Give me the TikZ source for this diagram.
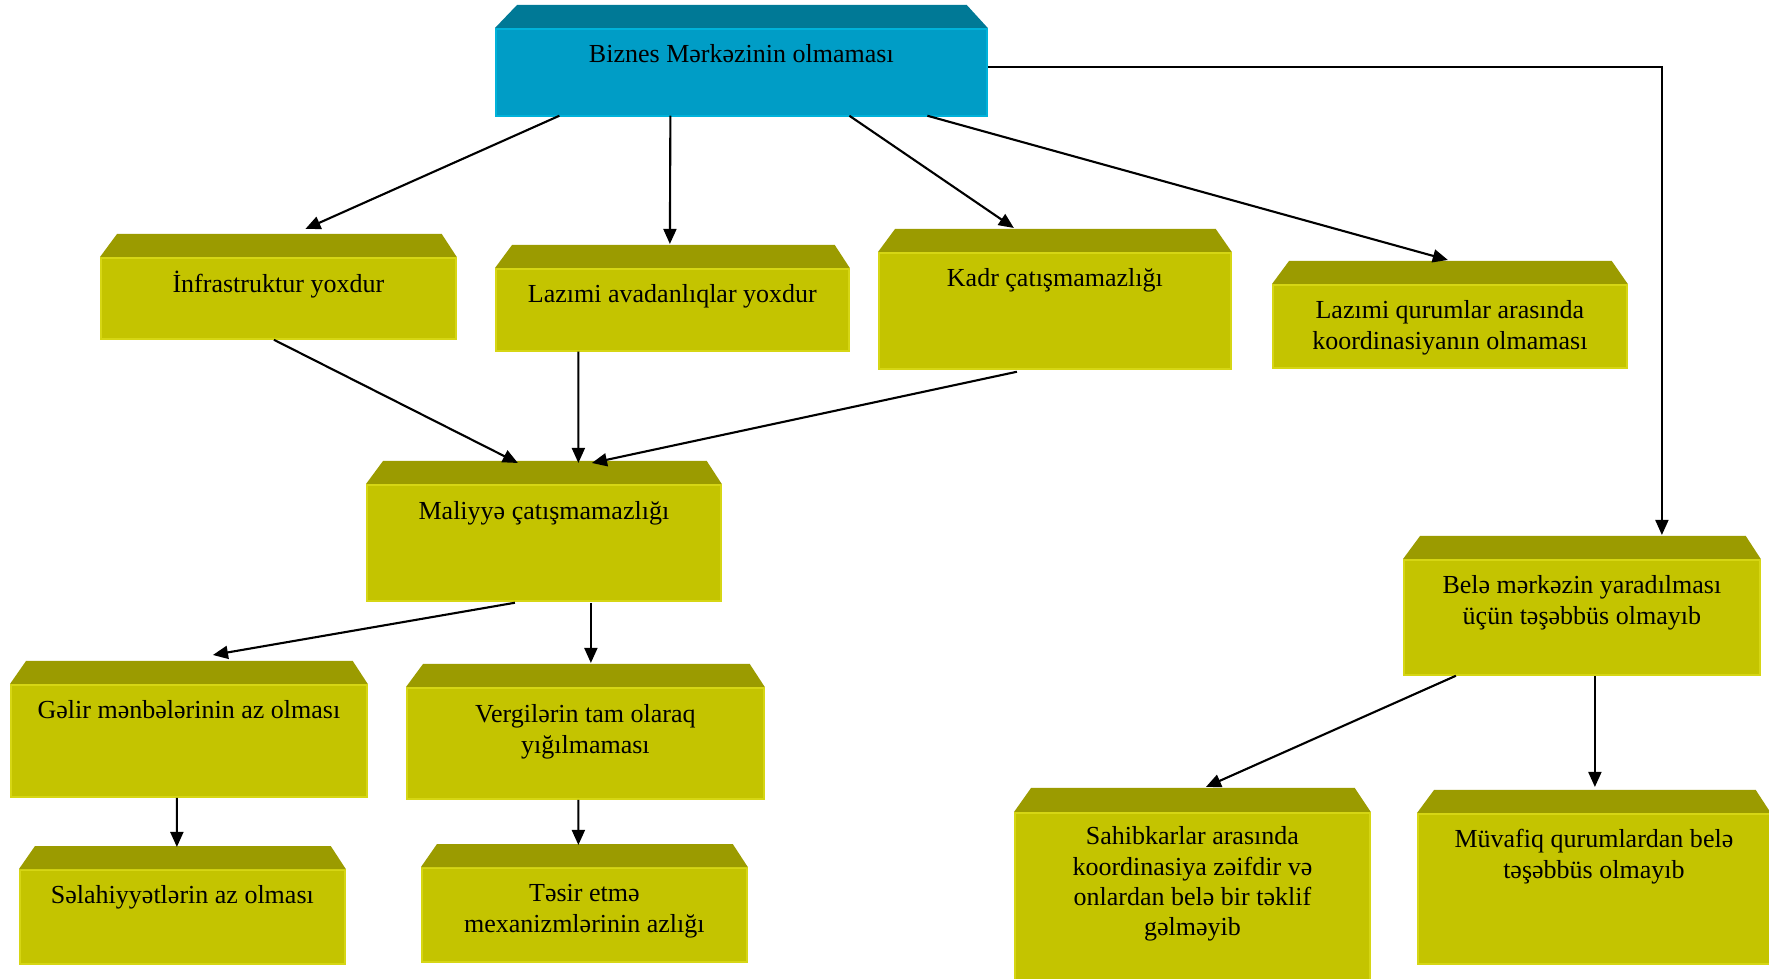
\documentclass[tikz,border=0pt]{standalone}
\usepackage{fontspec}
\setmainfont{Liberation Serif}
\usetikzlibrary{positioning,arrows.meta}
\definecolor{oliveTop}{RGB}{155,155,0}
\definecolor{oliveFront}{RGB}{196,196,0}
\definecolor{oliveEdge}{RGB}{214,214,20}
\definecolor{tealTop}{RGB}{0,121,150}
\definecolor{tealFront}{RGB}{0,157,198}
\definecolor{tealEdge}{RGB}{0,178,218}
\tikzset{
  front/.style={rectangle, anchor=north west, inner sep=0pt, fill=oliveFront, draw=oliveEdge, line width=0.5pt},
  bluefront/.style={front, fill=tealFront, draw=tealEdge},
  boxtext/.style={align=center, inner sep=0pt, font=\fontsize{7.4}{8.6}\selectfont},
  arr/.style={-{Triangle[length=4.3pt,width=3.7pt]}, line width=0.6pt}
}
\begin{document}
\begin{tikzpicture}[x=0.1mm,y=-0.1mm]
\useasboundingbox (0,0) rectangle (1769,979);

\node[bluefront, minimum width=49.1mm, minimum height=8.7mm] (biznes) at (495,28) {};
\node[front, minimum width=35.5mm, minimum height=8.1mm] (infra) at (100,257) {};
\node[front, minimum width=35.3mm, minimum height=8.2mm] (avad) at (495,268) {};
\node[front, minimum width=35.2mm, minimum height=11.6mm] (kadr) at (878,252) {};
\node[front, minimum width=35.4mm, minimum height=8.3mm] (qurum) at (1272,284) {};
\node[front, minimum width=35.4mm, minimum height=11.6mm] (maliyye) at (366,484) {};
\node[front, minimum width=35.6mm, minimum height=11.2mm] (gelir) at (10,684) {};
\node[front, minimum width=35.7mm, minimum height=11.1mm] (vergi) at (406,687) {};
\node[front, minimum width=32.5mm, minimum height=9.4mm] (selah) at (19,869) {};
\node[front, minimum width=32.5mm, minimum height=9.4mm] (tesir) at (421,867) {};
\node[front, minimum width=35.6mm, minimum height=11.5mm] (bele) at (1403,559) {};
\node[front, minimum width=35.5mm, minimum height=17.0mm] (sahib) at (1014,812) {};
\node[front, minimum width=35.2mm, minimum height=15.0mm] (muvafiq) at (1417,813) {};

% top faces
\fill[tealTop] (biznes.north west) -- ++(22,-23) -- ([shift={(-21,-23)}]biznes.north east) -- (biznes.north east) -- cycle;
\fill[oliveTop] (infra.north west) -- ++(17,-23) -- ([shift={(-15,-23)}]infra.north east) -- (infra.north east) -- cycle;
\fill[oliveTop] (avad.north west) -- ++(17,-23) -- ([shift={(-15,-23)}]avad.north east) -- (avad.north east) -- cycle;
\fill[oliveTop] (kadr.north west) -- ++(17,-23) -- ([shift={(-16,-23)}]kadr.north east) -- (kadr.north east) -- cycle;
\fill[oliveTop] (qurum.north west) -- ++(17,-23) -- ([shift={(-16,-23)}]qurum.north east) -- (qurum.north east) -- cycle;
\fill[oliveTop] (maliyye.north west) -- ++(17,-23) -- ([shift={(-15,-23)}]maliyye.north east) -- (maliyye.north east) -- cycle;
\fill[oliveTop] (gelir.north west) -- ++(16,-23) -- ([shift={(-15,-23)}]gelir.north east) -- (gelir.north east) -- cycle;
\fill[oliveTop] (vergi.north west) -- ++(17,-23) -- ([shift={(-15,-23)}]vergi.north east) -- (vergi.north east) -- cycle;
\fill[oliveTop] (selah.north west) -- ++(16,-23) -- ([shift={(-15,-23)}]selah.north east) -- (selah.north east) -- cycle;
\fill[oliveTop] (tesir.north west) -- ++(16,-23) -- ([shift={(-15,-23)}]tesir.north east) -- (tesir.north east) -- cycle;
\fill[oliveTop] (bele.north west) -- ++(17,-23) -- ([shift={(-15,-23)}]bele.north east) -- (bele.north east) -- cycle;
\fill[oliveTop] (sahib.north west) -- ++(17,-24) -- ([shift={(-16,-24)}]sahib.north east) -- (sahib.north east) -- cycle;
\fill[oliveTop] (muvafiq.north west) -- ++(17,-23) -- ([shift={(-15,-23)}]muvafiq.north east) -- (muvafiq.north east) -- cycle;

% texts
\node[boxtext, below=1.3mm of biznes.north] (biznes-t) {\strut Biznes Mərkəzinin olmaması};
\node[boxtext, below=1.3mm of infra.north] (infra-t) {\strut İnfrastruktur yoxdur};
\node[boxtext, below=1.3mm of avad.north] (avad-t) {\strut Lazımi avadanlıqlar yoxdur};
\node[boxtext, below=1.3mm of kadr.north] (kadr-t) {\strut Kadr çatışmamazlığı};
\node[boxtext, below=1.3mm of qurum.north] (qurum-t) {\strut Lazımi qurumlar arasında\\ koordinasiyanın olmaması};
\node[boxtext, below=1.4mm of maliyye.north] (maliyye-t) {\strut Maliyyə çatışmamazlığı};
\node[boxtext, below=1.3mm of gelir.north] (gelir-t) {\strut Gəlir mənbələrinin az olması};
\node[boxtext, below=1.4mm of vergi.north] (vergi-t) {\strut Vergilərin tam olaraq\\ yığılmaması};
\node[boxtext, below=1.3mm of selah.north] (selah-t) {\strut Səlahiyyətlərin az olması};
\node[boxtext, below=1.3mm of tesir.north] (tesir-t) {\strut Təsir etmə\\ mexanizmlərinin azlığı};
\node[boxtext, below=1.3mm of bele.north] (bele-t) {\strut Belə mərkəzin yaradılması\\ üçün təşəbbüs olmayıb};
\node[boxtext, below=1.1mm of sahib.north] (sahib-t) {\strut Sahibkarlar arasında\\ koordinasiya zəifdir və\\ onlardan belə bir təklif\\ gəlməyib};
\node[boxtext, below=1.3mm of muvafiq.north] (muvafiq-t) {\strut Müvafiq qurumlardan belə\\ təşəbbüs olmayıb};

% arrows
\draw[arr] ([shift={(-182,-1)}]biznes.south) -- ([shift={(27,-28)}]infra.north);
\draw[arr] ([shift={(-71,-1)}]biznes.south) -- ([shift={(-2.5,-24)}]avad.north);
\draw[arr] ([shift={(108,-1)}]biznes.south) -- ([shift={(-41,-24)}]kadr.north);
\draw[arr] ([shift={(186,-1)}]biznes.south) -- ([shift={(-2,-24)}]qurum.north);
\draw[arr] ([shift={(0,-5)}]biznes.east) -| ([shift={(80,-24)}]bele.north);
\draw[arr] ([shift={(-4.5,0)}]infra.south) -- ([shift={(-26,-21)}]maliyye.north);
\draw[arr] ([shift={(-94,0)}]avad.south) -- ([shift={(34.5,-21)}]maliyye.north);
\draw[arr] ([shift={(-38,2)}]kadr.south) -- ([shift={(48,-21)}]maliyye.north);
\draw[arr] ([shift={(-29,1)}]maliyye.south) -- ([shift={(24,-29)}]gelir.north);
\draw[arr] ([shift={(47,1)}]maliyye.south) -- ([shift={(5.5,-24)}]vergi.north);
\draw[arr] ([shift={(-12,0)}]gelir.south) -- ([shift={(-5.5,-22)}]selah.north);
\draw[arr] ([shift={(-7,0)}]vergi.south) -- ([shift={(-6,-22)}]tesir.north);
\draw[arr] ([shift={(-126,0)}]bele.south) -- ([shift={(13.5,-25)}]sahib.north);
\draw[arr] ([shift={(13,0)}]bele.south) -- ([shift={(1,-26)}]muvafiq.north);
\end{tikzpicture}
\end{document}
